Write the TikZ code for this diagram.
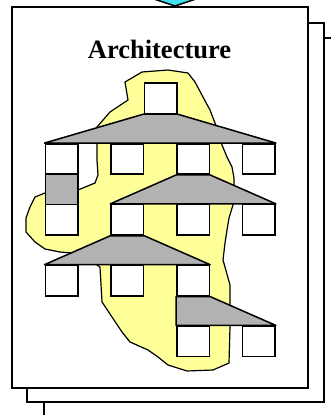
\documentclass[tikz,border=0pt]{standalone}
\usepackage{fontspec}
\setmainfont{Liberation Serif}
\usepackage{tikz}
\usetikzlibrary{positioning}
\definecolor{cyn}{RGB}{64,224,240}
\definecolor{yel}{RGB}{255,255,153}
\definecolor{tgray}{RGB}{178,178,178}
\tikzset{
  pg/.style={draw, line width=1.5pt, fill=white},
  bx/.style={draw, line width=1.5pt, fill=white, minimum width=32.5pt, minimum height=30.4pt, inner sep=0pt},
  gbx/.style={bx, fill=tgray},
  tr/.style={draw, line width=1.5pt, fill=tgray, line join=round},
  blob/.style={draw, line width=1.2pt, fill=yel, line join=round},
  dec/.style={draw, line width=1.5pt, fill=cyn},
  ttl/.style={font=\fontsize{26.5}{30}\selectfont\bfseries, inner sep=0pt}
}

\begin{document}
\begin{tikzpicture}[x=1pt,y=-1pt]
        \useasboundingbox (0,0) rectangle (331,415);
        \clip (0,0) rectangle (331,415);
        % stacked pages
        \draw[pg] (44,38) rectangle (345,430);
        \draw[pg] (27,23) rectangle (324,402);
        \draw[dec] (175,-30) -- (229,-12) -- (175,6) -- (121,-12) -- cycle;
        \draw[pg] (12,7) rectangle (308,388);
        \node[ttl, anchor=base] (title) at (159.5,58) {Architecture};
        % yellow region
        \draw[blob] (142,72) -- (168,70) -- (188,73) -- (195,82) -- (203,97) -- (210,110)
          -- (215,123) -- (219,135) -- (222,145) -- (227,157) -- (232,167) -- (234,178)
          -- (234,192) -- (233,205) -- (229,218) -- (227,230) -- (225,243) -- (223,260)
          -- (225,267) -- (230,285) -- (230,327) -- (229,363) -- (213,370) -- (187,371)
          -- (168,365) -- (158,357) -- (148,350) -- (130,342) -- (122,332) -- (112,317)
          -- (102,302) -- (100,267) -- (85,257) -- (72,253) -- (60,252) -- (45,249)
          -- (35,242) -- (26,232) -- (26,218) -- (30,207) -- (35,197) -- (45,193)
          -- (78,190) -- (95,183) -- (98,175) -- (97,160) -- (97,145) -- (97,127)
          -- (110,112) -- (128,100) -- (125,82) -- cycle;
        % boxes
        \node[bx] (top) at (160.5,98.2) {};
        \node[bx] (b11) at (61.5,159) {};
        \node[bx] (b12) at (127.3,159) {};
        \node[bx] (b13) at (193.1,159) {};
        \node[bx] (b14) at (258.9,159) {};
        \node[gbx] (g21) at (61.5,189.4) {};
        \node[bx] (b21) at (61.5,219.8) {};
        \node[bx] (b22) at (127.3,219.8) {};
        \node[bx] (b23) at (193.1,219.8) {};
        \node[bx] (b24) at (258.9,219.8) {};
        \node[bx] (b31) at (61.5,280.6) {};
        \node[bx] (b32) at (127.3,280.6) {};
        \node[bx] (b33) at (193.1,280.6) {};
        \node[bx] (b43) at (193.1,341.4) {};
        \node[bx] (b44) at (258.9,341.4) {};
        % trapezoids
        \draw[tr] (top.south west) -- (top.south east) -- (b14.north east) -- (b11.north west) -- cycle;
        \draw[tr] (b13.south west) -- (b13.south east) -- (b24.north east) -- (b22.north west) -- cycle;
        \draw[tr] (b22.south west) -- (b22.south east) -- (b33.north east) -- (b31.north west) -- cycle;
        \draw[tr] (b33.south west) -- (b33.south east) -- (b44.north east) -- (b43.north west) -- cycle;
      \end{tikzpicture}
\end{document}
